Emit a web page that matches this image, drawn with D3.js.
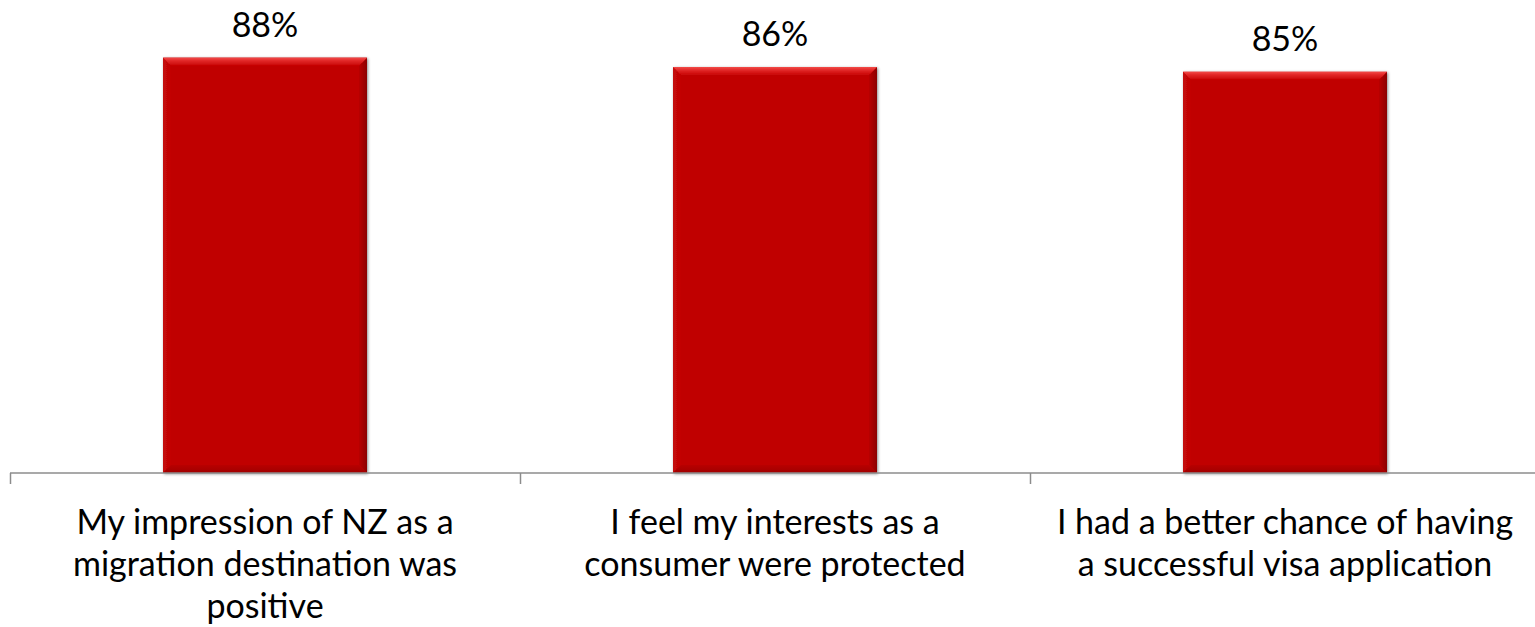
<!DOCTYPE html>
<html>
<head>
<meta charset="utf-8">
<script src="https://cdnjs.cloudflare.com/ajax/libs/d3/7.8.5/d3.min.js"></script>
<style>
  html, body { margin: 0; padding: 0; background: #fff; }
  svg { display: block; font-family: Lato, "Open Sans", sans-serif; }
</style>
</head>
<body>
<div id="chart"></div>
<script>
  var categories = ["impression", "interests", "chance"];
  var labelLines = [
    ["My impression of NZ as a", "migration destination was", "positive"],
    ["I feel my interests as a", "consumer were protected"],
    ["I had a better chance of having", "a successful visa application"]
  ];
  var values = [0.88, 0.86, 0.85];

  var width = 1535, height = 627;
  var baseY = 473, bevel = 8;

  var svg = d3.select("#chart").append("svg")
    .attr("width", width).attr("height", height);

  var x = d3.scaleBand().domain(categories).range([10, 1540]);
  var y = d3.scaleLinear().domain([0, 1]).range([baseY, 1]);
  var barW = x.bandwidth() * 0.4;

  var defs = svg.append("defs");
  var f = defs.append("filter").attr("id", "shadow")
    .attr("x", "-10%").attr("y", "-10%").attr("width", "120%").attr("height", "120%");
  f.append("feDropShadow").attr("dx", 1).attr("dy", 1).attr("stdDeviation", 1.8)
    .attr("flood-color", "#000").attr("flood-opacity", 0.45);

  function grad(id, x2, y2, stops) {
    var g = defs.append("linearGradient").attr("id", id)
      .attr("x1", 0).attr("y1", 0).attr("x2", x2).attr("y2", y2);
    stops.forEach(function(s) {
      g.append("stop").attr("offset", s[0]).attr("stop-color", s[1]);
    });
  }
  grad("topBevel", 0, 1, [[0, "#f24a48"], [0.35, "#e32a2a"], [1, "#c80606"]]);
  grad("rightBevel", 1, 0, [[0, "#b80000"], [1, "#8c0000"]]);
  grad("leftBevel", 1, 0, [[0, "#c40a0a"], [1, "#c20202"]]);
  grad("bottomBevel", 0, 1, [[0, "#b80000"], [1, "#a00000"]]);

  var bars = svg.selectAll(".bar").data(values).enter().append("g")
    .attr("class", "bar")
    .attr("filter", "url(#shadow)");

  function xs(i) { return x(categories[i]) + (x.bandwidth() - barW) / 2; }

  bars.append("rect")
    .attr("x", function(d, i) { return xs(i); })
    .attr("y", function(d) { return y(d); })
    .attr("width", barW)
    .attr("height", function(d) { return baseY - y(d); })
    .attr("fill", "#c00000");

  function poly(fill, pts) {
    svg.selectAll(".bar").append("polygon")
      .attr("fill", fill)
      .attr("points", function(d, i) {
        var x0 = xs(i), x1 = x0 + barW, y0 = y(d), y1 = baseY;
        return pts(x0, x1, y0, y1).map(function(p) { return p.join(","); }).join(" ");
      });
  }
  poly("url(#leftBevel)", function(x0, x1, y0, y1) {
    return [[x0, y0], [x0 + bevel, y0 + bevel], [x0 + bevel, y1 - bevel], [x0, y1]];
  });
  poly("url(#rightBevel)", function(x0, x1, y0, y1) {
    return [[x1, y0], [x1 - bevel, y0 + bevel], [x1 - bevel, y1 - bevel], [x1, y1]];
  });
  poly("url(#bottomBevel)", function(x0, x1, y0, y1) {
    return [[x0, y1], [x0 + bevel, y1 - bevel], [x1 - bevel, y1 - bevel], [x1, y1]];
  });
  poly("url(#topBevel)", function(x0, x1, y0, y1) {
    return [[x0, y0], [x1, y0], [x1 - bevel, y0 + bevel], [x0 + bevel, y0 + bevel]];
  });

  // value labels
  svg.selectAll(".val").data(values).enter().append("text")
    .attr("class", "val")
    .attr("x", function(d, i) { return x(categories[i]) + x.bandwidth() / 2; })
    .attr("y", function(d) { return y(d) - 21; })
    .attr("text-anchor", "middle")
    .attr("font-size", 34)
    .attr("fill", "#000")
    .text(function(d) { return d3.format(".0%")(d); });

  // axis
  var axis = svg.append("g").attr("stroke", "#8c8c8c").attr("stroke-width", 1.5);
  axis.append("line")
    .attr("x1", 10).attr("x2", width).attr("y1", baseY).attr("y2", baseY);
  var tickPos = categories.map(function(c) { return x(c); }).concat([x.range()[1]]);
  axis.selectAll(".tick").data(tickPos).enter().append("line")
    .attr("x1", function(d) { return d + 0.5; }).attr("x2", function(d) { return d + 0.5; })
    .attr("y1", baseY).attr("y2", baseY + 11);

  // category labels
  var lab = svg.selectAll(".cat").data(labelLines).enter().append("text")
    .attr("class", "cat")
    .attr("text-anchor", "middle")
    .attr("font-size", 34)
    .attr("fill", "#000");
  lab.selectAll("tspan").data(function(d, i) {
      return d.map(function(t) { return { t: t, i: i }; });
    }).enter().append("tspan")
    .attr("x", function(d) { return x(categories[d.i]) + x.bandwidth() / 2; })
    .attr("y", function(d, j) { return 534 + j * 42; })
    .text(function(d) { return d.t; });
</script>
</body>
</html>
